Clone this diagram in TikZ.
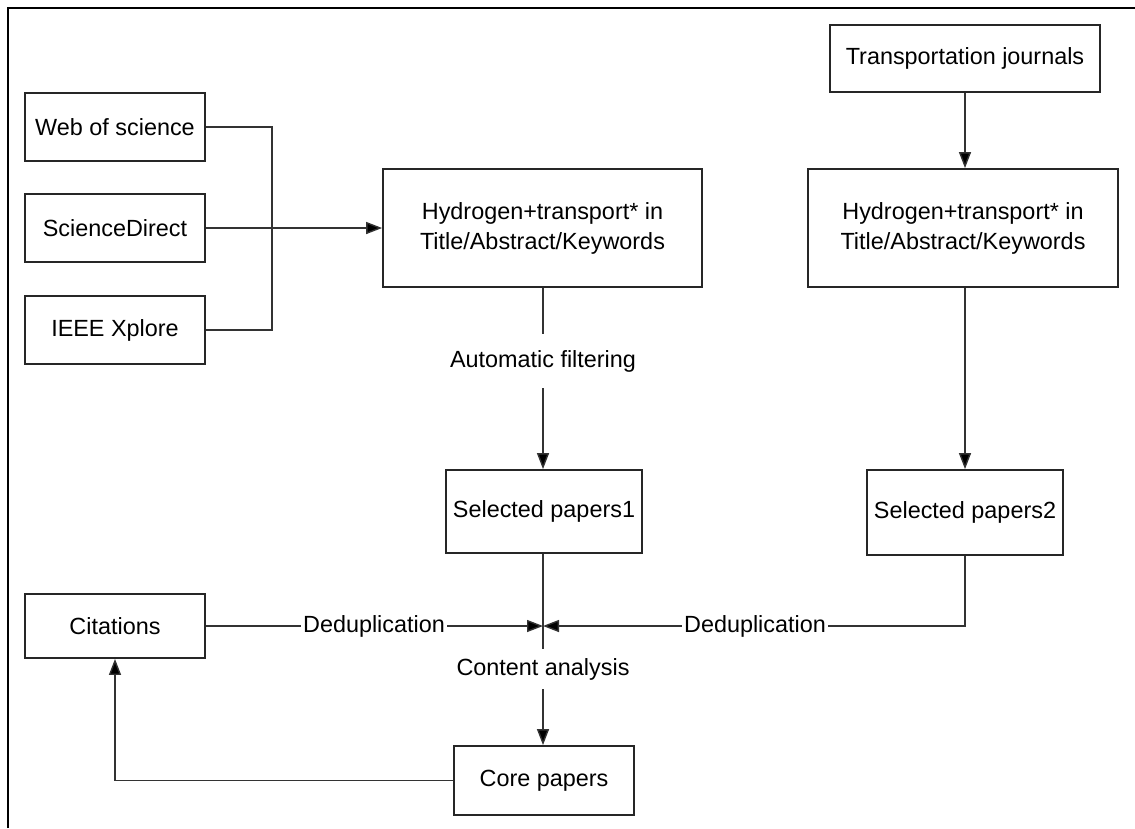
\documentclass[tikz,border=0pt]{standalone}
\usepackage{fontspec}
\setmainfont{Liberation Sans}
\usetikzlibrary{arrows.meta}
\begin{document}
\begin{tikzpicture}[x=1pt,y=-1pt,
  box/.style={draw=black!85, line width=1.8pt, inner sep=0pt, align=center,
    font=\fontsize{23.4}{30}\selectfont},
  lbl/.style={inner xsep=2pt, font=\fontsize{23.4}{30}\selectfont},
  conn/.style={draw=black!80, line width=1.4pt},
  arr/.style={conn, -{Triangle[length=16pt,width=12pt,fill=black]}}]
\useasboundingbox (0,0) rectangle (1135,828);
\draw[line width=1.8pt] (8,828) -- (8,8) -- (1135,8);
% boxes
\node[box, minimum width=180, minimum height=68] (web) at (115,127) {Web of science};
\node[box, minimum width=180, minimum height=68] (sd) at (115,228) {ScienceDirect};
\node[box, minimum width=180, minimum height=68] (ieee) at (115,330) {IEEE Xplore};
\node[box, minimum width=319, minimum height=118] (h1) at (542.5,228) {Hydrogen+transport* in\\Title/Abstract/Keywords};
\node[box, minimum width=270, minimum height=67] (tj) at (965,58.5) {Transportation journals};
\node[box, minimum width=310, minimum height=118] (h2) at (963,228) {Hydrogen+transport* in\\Title/Abstract/Keywords};
\node[box, minimum width=196, minimum height=83] (s1) at (544,511.5) {Selected papers1};
\node[box, minimum width=196, minimum height=85] (s2) at (965,512.5) {Selected papers2};
\node[box, minimum width=180, minimum height=64] (cit) at (115,626) {Citations};
\node[box, minimum width=180, minimum height=69] (core) at (544,780.5) {Core papers};
% labels
\node[lbl, inner ysep=16pt] (af) at (543,361) {Automatic filtering};
\node[lbl, inner ysep=9pt] (ca) at (543,669) {Content analysis};
\node[lbl] (dd1) at (374,626) {Deduplication};
\node[lbl] (dd2) at (755,626) {Deduplication};
\coordinate (jn) at (272,228);
\coordinate (mid) at (543,626);
% connectors
\draw[conn] (web.east) -| (jn);
\draw[conn] (ieee.east) -| (jn);
\draw[arr] (sd.east) -- (h1.west);
\draw[conn] (h1.south -| af) -- (af.north);
\draw[arr] (af.south) -- (s1.north -| af);
\draw[arr] (tj.south) -- (h2.north -| tj);
\draw[arr] (h2.south -| s2) -- (s2.north);
\draw[conn] (s1.south -| ca) -- (ca.north);
\draw[arr] (ca.south) -- (core.north -| ca);
\draw[conn] (cit.east) -- (dd1.west);
\draw[arr] (dd1.east) -- (mid);
\draw[conn] (s2.south) |- (dd2.east);
\draw[arr] (dd2.west) -- (mid);
\draw[arr] (core.west) -| (cit.south);
\end{tikzpicture}
\end{document}
